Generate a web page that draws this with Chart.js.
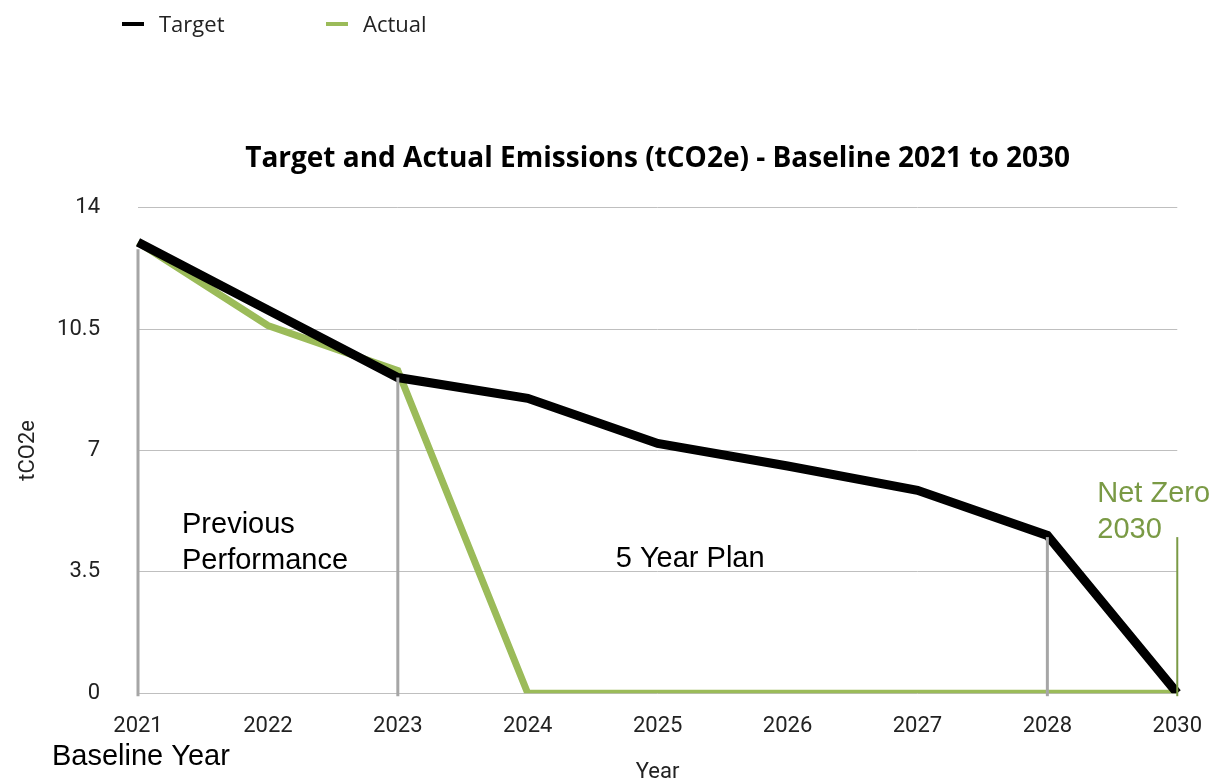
<!DOCTYPE html>
<html>
<head>
<meta charset="utf-8">
<script src="https://cdn.jsdelivr.net/npm/chart.js@4/dist/chart.umd.min.js"></script>
<style>
  html, body { margin: 0; padding: 0; background: #fff; }
  #wrap { position: relative; width: 1222px; height: 782px; }
  #legend { position: absolute; left: 122px; top: 8px; font-family: "Open Sans", sans-serif; font-size: 22px; color: #222; }
  #legend span.item { position: absolute; white-space: nowrap; top: 0; }
  #legend span.box { display: inline-block; width: 22px; height: 4px; vertical-align: middle; margin-right: 15px; position: relative; top: -2px; }
</style>
</head>
<body>
<div id="wrap">
  <canvas id="chart" width="1222" height="782"></canvas>
  <div id="legend"></div>
</div>
<script>
// Data
let years = ["2021", "2022", "2023", "2024", "2025", "2026", "2027", "2028", "2030"];
let target = [13, 11.05, 9.1, 8.5, 7.2, 6.55, 5.85, 4.55, 0];
let actual = [13, 10.6, 9.3, 0, 0, 0, 0, 0, 0];
let yTicks = [0, 3.5, 7, 10.5, 14];

// Vertical marker lines (year index, top value)
let markerIdx = [0, 2, 7, 8];
let markerTop = [12.8, 9.1, 4.5, 4.5];

let black = "#000000";
let green = "#9BBB59";
let darkGreen = "#7A9A45";

// Markers and notes
const notesPlugin = {
  id: "notes",
  afterDatasetsDraw(chart) {
    let ctx = chart.ctx;
    let x = chart.scales.x, y = chart.scales.y;
    ctx.save();
    markerIdx.forEach((idx, i) => {
      let px = x.getPixelForValue(idx);
      let last = i === markerIdx.length - 1;
      ctx.strokeStyle = last ? darkGreen : "#A6A6A6";
      ctx.lineWidth = last ? 2 : 3;
      ctx.beginPath();
      ctx.moveTo(px, y.getPixelForValue(markerTop[i]));
      ctx.lineTo(px, y.getPixelForValue(0) + 3);
      ctx.stroke();
    });
    ctx.restore();
  },
  afterDraw(chart) {
    let ctx = chart.ctx;
    let x = chart.scales.x;
    ctx.save();
    ctx.font = "29px 'Liberation Sans', Arial, sans-serif";
    ctx.textBaseline = "middle";
    ctx.fillStyle = "#000";
    let x0 = x.getPixelForValue(0);
    ctx.fillText("Previous", x0 + 44, 525);
    ctx.fillText("Performance", x0 + 44, 561);
    ctx.fillText("5 Year Plan", x.getPixelForValue(3) + 88, 559);
    ctx.fillText("Baseline Year", x0 - 86, 757);
    ctx.fillStyle = darkGreen;
    let x8 = x.getPixelForValue(8);
    ctx.fillText("Net Zero", x8 - 80, 494);
    ctx.fillText("2030", x8 - 80, 530);
    ctx.restore();
  }
};

let chart = new Chart(document.getElementById("chart"), {
  type: "line",
  data: {
    labels: years,
    datasets: [
      { label: "Target", data: target, borderColor: black, backgroundColor: black, borderWidth: 9, pointRadius: 0, tension: 0 },
      { label: "Actual", data: actual, borderColor: green, backgroundColor: green, borderWidth: 7, pointRadius: 0, tension: 0 }
    ]
  },
  options: {
    responsive: false,
    animation: false,
    layout: { padding: { left: 15, right: 37, top: 0, bottom: 0 } },
    plugins: {
      legend: { display: false },
      tooltip: { enabled: false },
      title: {
        display: true,
        fullSize: false,
        text: "Target and Actual Emissions (tCO2e) - Baseline 2021 to 2030",
        font: { family: "Open Sans", size: 28, weight: "bold" },
        color: "#000",
        padding: { top: 142, bottom: 32 }
      }
    },
    scales: {
      x: {
        offset: false,
        grid: { display: false, drawTicks: false },
        border: { display: false },
        ticks: { color: "#222", font: { family: "Roboto", size: 22 }, padding: 20, maxRotation: 0 },
        title: { display: true, text: "Year", color: "#222", font: { family: "Roboto", size: 22 }, padding: { top: 0, bottom: -4 } }
      },
      y: {
        min: 0,
        max: 14,
        afterBuildTicks(axis) { axis.ticks = yTicks.map(v => ({ value: v })); },
        afterFit(axis) { axis.width = 123; },
        grid: { color: "#BFBFBF", lineWidth: 1, drawTicks: false },
        border: { display: false },
        ticks: { color: "#222", font: { family: "Roboto", size: 22 }, padding: 38 },
        title: { display: true, text: "tCO2e", color: "#222", font: { family: "Roboto", size: 22 }, padding: { top: 0, bottom: 0 } }
      }
    }
  },
  plugins: [notesPlugin]
});

// Legend
let legend = document.getElementById("legend");
let legendLeft = [0, 204];
chart.data.datasets.forEach((ds, i) => {
  let item = document.createElement("span");
  item.className = "item";
  item.style.left = legendLeft[i] + "px";
  let box = document.createElement("span");
  box.className = "box";
  box.style.background = ds.borderColor;
  item.appendChild(box);
  item.appendChild(document.createTextNode(ds.label));
  legend.appendChild(item);
});
</script>
</body>
</html>
